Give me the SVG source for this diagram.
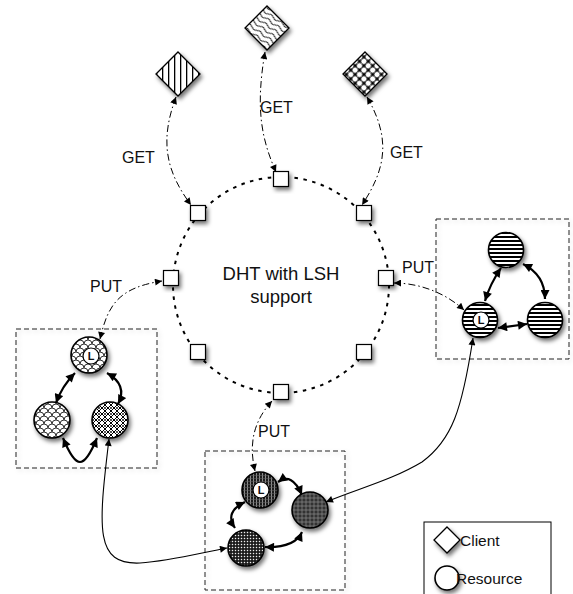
<svg xmlns="http://www.w3.org/2000/svg" width="573" height="594" viewBox="0 0 573 594">
<style>
text{font-family:"Liberation Sans",Arial,sans-serif;fill:#111}
.lbl{font-size:16px}
.big{font-size:18.5px}
.leg{font-size:15.5px}
.node{fill:#fff;stroke:#000;stroke-width:1.2;filter:url(#sh)}
.res{stroke:#000;stroke-width:1.6;filter:url(#sh)}
.cli{stroke:#000;stroke-width:1.3;filter:url(#sh)}
.box{fill:none;stroke:#222;stroke-width:1;stroke-dasharray:5 3}
.ring{fill:none;stroke:#000;stroke-width:2;stroke-dasharray:3.5 5.5}
.dd{fill:none;stroke:#000;stroke-width:1;stroke-dasharray:7 3 1.5 3;marker-start:url(#ah);marker-end:url(#ah)}
.sol{fill:none;stroke:#000;stroke-width:1.1;marker-start:url(#ah);marker-end:url(#ah)}
.thk{fill:none;stroke:#000;stroke-width:2.2;marker-start:url(#ahb);marker-end:url(#ahb)}
.badge{fill:#fff;stroke:#000;stroke-width:1.2}
.L{font-size:11px;font-weight:bold;text-anchor:middle}
</style>
<defs>
<filter id="sh" x="-50%" y="-50%" width="200%" height="200%">
<feDropShadow dx="2" dy="3" stdDeviation="2.2" flood-color="#000" flood-opacity="0.55"/>
</filter>
<filter id="shb" x="-10%" y="-10%" width="120%" height="120%">
<feDropShadow dx="2" dy="2" stdDeviation="2" flood-color="#000" flood-opacity="0.18"/>
</filter>
<marker id="ah" viewBox="0 0 10 10" refX="10" refY="5" markerWidth="9" markerHeight="7" orient="auto-start-reverse" markerUnits="userSpaceOnUse"><path d="M0,0 L10,5 L0,10 z" fill="#000"/></marker>
<marker id="ahb" viewBox="0 0 10 10" refX="10" refY="5" markerWidth="11" markerHeight="9" orient="auto-start-reverse" markerUnits="userSpaceOnUse"><path d="M0,0 L10,5 L0,10 z" fill="#000"/></marker>
<pattern id="vstr" width="6" height="6" patternUnits="userSpaceOnUse"><rect width="6" height="6" fill="#fff"/><rect x="0" width="1.3" height="6" fill="#000"/></pattern>
<pattern id="wave" width="12" height="5" patternUnits="userSpaceOnUse" patternTransform="rotate(35)"><rect width="12" height="5" fill="#fff"/><path d="M0,2.5 Q3,0 6,2.5 T12,2.5" fill="none" stroke="#000" stroke-width="0.9"/></pattern>
<pattern id="dots" width="6.2" height="6.2" patternUnits="userSpaceOnUse" patternTransform="rotate(45)"><rect width="6.2" height="6.2" fill="#000"/><circle cx="3.1" cy="3.1" r="3.0" fill="#fff" stroke="#000" stroke-width="0.6"/></pattern>
<pattern id="scale" width="8" height="8" patternUnits="userSpaceOnUse"><rect width="8" height="8" fill="#fff"/><path d="M0,4 A4,4 0 0 1 8,4 M-4,8 A4,4 0 0 1 4,8 M4,8 A4,4 0 0 1 12,8 M-4,0 A4,4 0 0 1 4,0 M4,0 A4,4 0 0 1 12,0" fill="none" stroke="#000" stroke-width="0.8"/></pattern>
<pattern id="net" width="6" height="6" patternUnits="userSpaceOnUse"><rect width="6" height="6" fill="#fff"/><path d="M0,0 L6,6 M6,0 L0,6" stroke="#000" stroke-width="1"/><circle cx="3" cy="0" r="0.9" fill="#000"/><circle cx="3" cy="6" r="0.9" fill="#000"/></pattern>
<pattern id="hstr" width="6" height="4" patternUnits="userSpaceOnUse"><rect width="6" height="4" fill="#fff"/><rect y="0" width="6" height="2" fill="#000"/></pattern>
<pattern id="dk1" width="3" height="3" patternUnits="userSpaceOnUse"><rect width="3" height="3" fill="#1e1e1e"/><rect x="1" width="0.7" height="3" fill="#bbb"/><rect y="1.5" width="3" height="0.5" fill="#666"/></pattern>
<pattern id="dk2" width="4" height="4" patternUnits="userSpaceOnUse"><rect width="4" height="4" fill="#333"/><path d="M0,2 H4 M2,0 V4" stroke="#888" stroke-width="0.7"/></pattern>
<pattern id="dk3" width="3" height="3" patternUnits="userSpaceOnUse"><rect width="3" height="3" fill="#1e1e1e"/><circle cx="1.5" cy="1.5" r="0.75" fill="#eee"/></pattern>
</defs>

<!-- DHT ring -->
<g id="ring">
<circle class="ring" cx="281" cy="285" r="108"/>
<text class="big" x="281" y="280" text-anchor="middle">DHT with LSH</text>
<text class="big" x="281" y="303" text-anchor="middle">support</text>
</g>

<!-- dashed cluster boxes -->
<g id="cluster-left-box"><rect class="box" x="16" y="329" width="141" height="139" filter="url(#shb)"/></g>
<g id="cluster-right-box"><rect class="box" x="436" y="219" width="133" height="140" filter="url(#shb)"/></g>
<g id="cluster-bottom-box"><rect class="box" x="205" y="451" width="140" height="139" filter="url(#shb)"/></g>

<!-- connectors -->
<g id="connectors">
<path class="dd" d="M176,97 C160,140 165,170 191,205"/>
<path class="dd" d="M265,52 C255,110 262,140 276,172"/>
<path class="dd" d="M367,97 C392,140 385,170 362,205"/>
<path class="dd" d="M100,339 C108,305 118,288 162,281"/>
<path class="dd" d="M394,283 C415,283 442,290 464,310"/>
<path class="dd" d="M272,401 C250,425 250,450 255,471"/>
<path class="sol" d="M109,439 C98,530 95,565 140,563 C170,561 200,553 227,548"/>
<path class="sol" d="M473,338 C462,410 452,440 422,462 C392,480 360,488 326,502"/>
<path class="thk" d="M75,373 Q62,386 56,403"/>
<path class="thk" d="M107,373 Q128,385 118,404"/>
<path class="thk" d="M63,438 C70,455 75,462 80,462 C85,462 90,455 97,438"/>
<path class="thk" d="M501,268 Q490,284 485,301"/>
<path class="thk" d="M523,264 Q545,275 545,299"/>
<path class="thk" d="M498,328 L527,324"/>
<path class="thk" d="M278,482 Q292,472 302,495"/>
<path class="thk" d="M245,502 Q224,512 235,528"/>
<path class="thk" d="M265,547 Q295,548 302,532"/>
</g>

<!-- connector labels -->
<g id="labels">
<text class="lbl" x="122" y="163">GET</text>
<text class="lbl" x="260" y="113">GET</text>
<text class="lbl" x="390" y="158">GET</text>
<text class="lbl" x="90" y="292">PUT</text>
<text class="lbl" x="402" y="273">PUT</text>
<text class="lbl" x="258" y="437">PUT</text>
</g>

<!-- ring nodes -->
<g id="n-top"><rect class="node" x="273.5" y="171.5" width="15" height="15"/></g>
<g id="n-topleft"><rect class="node" x="190.5" y="205.5" width="15" height="15"/></g>
<g id="n-topright"><rect class="node" x="356.5" y="205.5" width="15" height="15"/></g>
<g id="n-left"><rect class="node" x="163.5" y="270.5" width="15" height="15"/></g>
<g id="n-right"><rect class="node" x="378.5" y="270.5" width="15" height="15"/></g>
<g id="n-bottomleft"><rect class="node" x="190.5" y="344.5" width="15" height="15"/></g>
<g id="n-bottomright"><rect class="node" x="356.5" y="344.5" width="15" height="15"/></g>
<g id="n-bottom"><rect class="node" x="273.5" y="384.5" width="15" height="15"/></g>

<!-- clients -->
<g id="client-left"><polygon class="cli" fill="url(#vstr)" points="178,52 200,74 178,96 156,74"/></g>
<g id="client-mid"><polygon class="cli" fill="url(#wave)" points="267,6 289,28 267,50 245,28"/></g>
<g id="client-right"><polygon class="cli" fill="url(#dots)" points="365,52 387,74 365,96 343,74"/></g>

<!-- left cluster -->
<g id="left-leader"><circle class="res" fill="url(#scale)" cx="89" cy="355" r="18"/><circle class="badge" cx="91" cy="356" r="8"/><text class="L" x="91" y="360">L</text></g>
<g id="left-bl"><circle class="res" fill="url(#scale)" cx="52" cy="420" r="18"/></g>
<g id="left-br"><circle class="res" fill="url(#net)" cx="110" cy="420" r="18"/></g>

<!-- right cluster -->
<g id="right-top"><circle class="res" fill="url(#hstr)" cx="506" cy="250" r="17.5"/></g>
<g id="right-leader"><circle class="res" fill="url(#hstr)" cx="480" cy="320" r="17.5"/><circle class="badge" cx="481" cy="320" r="8"/><text class="L" x="481" y="324">L</text></g>
<g id="right-right"><circle class="res" fill="url(#hstr)" cx="545" cy="320" r="17.5"/></g>

<!-- bottom cluster -->
<g id="bottom-leader"><circle class="res" fill="url(#dk1)" cx="260" cy="490" r="18"/><circle class="badge" cx="261" cy="490" r="8"/><text class="L" x="261" y="494">L</text></g>
<g id="bottom-right"><circle class="res" fill="url(#dk2)" cx="310" cy="510" r="18"/></g>
<g id="bottom-bottom"><circle class="res" fill="url(#dk3)" cx="246" cy="548" r="18"/></g>

<!-- legend -->
<g id="legend">
<rect x="424" y="522" width="127" height="80" fill="#fff" stroke="#000" stroke-width="1"/>
<polygon class="cli" fill="#fff" points="447,527 460,540 447,553 434,540"/>
<text class="leg" x="460" y="546">Client</text>
<circle class="res" fill="#fff" stroke-width="1.2" cx="447" cy="578" r="12"/>
<text class="leg" x="456" y="584">Resource</text>
</g>
</svg>
